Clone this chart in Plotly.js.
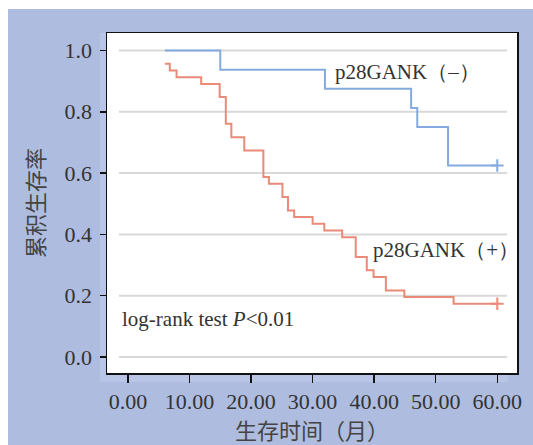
<!DOCTYPE html>
<html>
<head>
<meta charset="utf-8">
<script src="https://cdn.plot.ly/plotly-3.0.1.min.js"></script>
<style>
html,body{margin:0;padding:0;background:#ffffff;}
#chart{position:absolute;left:8px;top:9px;width:525px;height:436px;}
</style>
</head>
<body>
<div id="chart"></div>
<script>
// Survival data
const negTimes = [6, 15, 32, 46, 47, 52, 60];
const negSurv  = [1.0, 0.9375, 0.875, 0.8125, 0.75, 0.625, 0.625];
const posTimes = [6, 6.8, 7.9, 11.9, 14.9, 15.9, 16.8, 18.9, 22.0, 22.9, 25.1, 26.0, 27.0, 30.0, 31.9, 34.8, 37.0, 38.8, 39.9, 41.9, 44.9, 52.9, 60];
const posSurv  = [0.957, 0.935, 0.913, 0.891, 0.848, 0.761, 0.717, 0.674, 0.587, 0.565, 0.522, 0.478, 0.457, 0.435, 0.413, 0.391, 0.326, 0.283, 0.261, 0.217, 0.196, 0.174, 0.174];
const negCensorT = [60];
const negCensorS = [0.625];
const posCensorT = [60];
const posCensorS = [0.174];
const xTicks = [0, 10, 20, 30, 40, 50, 60];
const xTickLabels = ['0.00', '10.00', '20.00', '30.00', '40.00', '50.00', '60.00'];
const yTicks = [0, 0.2, 0.4, 0.6, 0.8, 1.0];
const yTickLabels = ['0.0', '0.2', '0.4', '0.6', '0.8', '1.0'];
const labelNeg = 'p28GANK（–）';
const labelPos = 'p28GANK（+）';
const labelTest = 'log-rank test <i>P</i><0.01';
const xTitle = '生存时间（月）';
const yTitle = '累积生存率';

const blue = '#84aae0';
const red = '#ea8a78';
const serif = '"Liberation Serif", "Times New Roman", serif';
const cjk = '"Noto Sans CJK SC", sans-serif';

const traces = [
  {x: negTimes, y: negSurv, mode: 'lines', line: {shape: 'hv', color: blue, width: 2}, hoverinfo: 'skip'},
  {x: posTimes, y: posSurv, mode: 'lines', line: {shape: 'hv', color: red, width: 2}, hoverinfo: 'skip'},
  {x: negCensorT, y: negCensorS, mode: 'markers', marker: {symbol: 'cross-thin', size: 9, line: {color: blue, width: 2}}},
  {x: posCensorT, y: posCensorS, mode: 'markers', marker: {symbol: 'cross-thin', size: 9, line: {color: red, width: 2}}}
];

const shapes = [
  {type: 'rect', xref: 'paper', yref: 'paper', x0: -0.0171, x1: 0.978, y0: -0.0265, y1: 1.0, fillcolor: '#b8c5e5', line: {width: 0}, layer: 'below'},
  {type: 'rect', xref: 'paper', yref: 'paper', x0: 0, x1: 1, y0: 0, y1: 1, fillcolor: '#ffffff', line: {width: 0}, layer: 'below'}
];
yTicks.forEach(v => shapes.push({type: 'line', xref: 'x', yref: 'y', x0: -1.45, x1: 61.6, y0: v, y1: v, line: {color: '#d9d9d9', width: 2}, layer: 'below'}));

const layout = {
  width: 525, height: 436,
  margin: {l: 99, r: 16, t: 24, b: 72},
  paper_bgcolor: '#aebcdf',
  plot_bgcolor: '#ffffff',
  showlegend: false,
  font: {family: serif, color: '#333333', size: 22},
  xaxis: {
    range: [-3.4, 63.2], tickvals: xTicks, ticktext: xTickLabels,
    showgrid: false, zeroline: false, showline: true, mirror: true, linecolor: '#111111', linewidth: 1.5,
    ticks: 'outside', ticklen: 8, tickwidth: 1.5, tickcolor: '#111111',
    tickfont: {family: serif, size: 22, color: '#333333'},
    title: {text: xTitle, font: {family: cjk, size: 22, color: '#444444'}, standoff: 2}
  },
  yaxis: {
    range: [-0.052, 1.057], tickvals: yTicks, ticktext: yTickLabels,
    showgrid: false, zeroline: false, showline: true, mirror: true, linecolor: '#111111', linewidth: 1.5,
    ticks: 'outside', ticklen: 6, tickwidth: 1.5, tickcolor: '#111111', ticklabelstandoff: 3,
    tickfont: {family: serif, size: 22, color: '#333333'},
    title: {text: yTitle, font: {family: cjk, size: 22, color: '#444444'}, standoff: 14}
  },
  shapes: shapes,
  annotations: [
    {x: 33.3, y: 0.93, xref: 'x', yref: 'y', text: labelNeg, showarrow: false, xanchor: 'left', yanchor: 'middle', font: {family: serif, size: 21, color: '#333333'}},
    {x: 39.5, y: 0.35, xref: 'x', yref: 'y', text: labelPos, showarrow: false, xanchor: 'left', yanchor: 'middle', font: {family: serif, size: 21, color: '#333333'}},
    {x: -1.3, y: 0.125, xref: 'x', yref: 'y', text: labelTest, showarrow: false, xanchor: 'left', yanchor: 'middle', font: {family: serif, size: 21, color: '#333333'}}
  ]
};

Plotly.newPlot('chart', traces, layout, {displayModeBar: false, staticPlot: true});
</script>
</body>
</html>
